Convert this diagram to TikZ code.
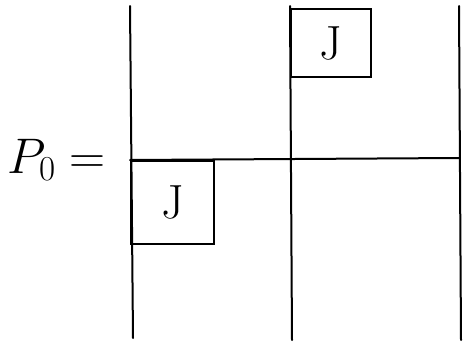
\documentclass[tikz,border=0pt]{standalone}
\usepackage{fix-cm}
\usetikzlibrary{positioning}
\tikzset{
  ink/.style={line width=2pt, line cap=round},
  cell/.style={draw, line width=2pt, inner sep=0pt, anchor=north west,
               font=\fontsize{48}{48}\selectfont}
}
\begin{document}
\begin{tikzpicture}[x=1pt, y=-1pt]
  \useasboundingbox (0,0) rectangle (474,351);
  % grid lines
  \coordinate (c1t) at (130,6);   \coordinate (c1b) at (133,338);
  \coordinate (c2t) at (290,6);   \coordinate (c2b) at (292,340);
  \coordinate (c3t) at (459,6);   \coordinate (c3b) at (461,340);
  \coordinate (r1l) at (130,160); \coordinate (r1r) at (459,158);
  \draw[ink] (c1t) -- (c1b);
  \draw[ink] (c2t) -- (c2b);
  \draw[ink] (c3t) -- (c3b);
  \draw[ink] (r1l) -- (r1r);
  % blocks
  \node[cell, minimum width=83pt, minimum height=83pt] (jlow) at (130,160) {J};
  \node[cell, minimum width=80pt, minimum height=68pt] (jup) at (290,8) {J};
  % left-hand side
  \node[font=\fontsize{50}{50}\selectfont, anchor=west] (lhs) at (4,160) {$P_0 =$};
\end{tikzpicture}
\end{document}
